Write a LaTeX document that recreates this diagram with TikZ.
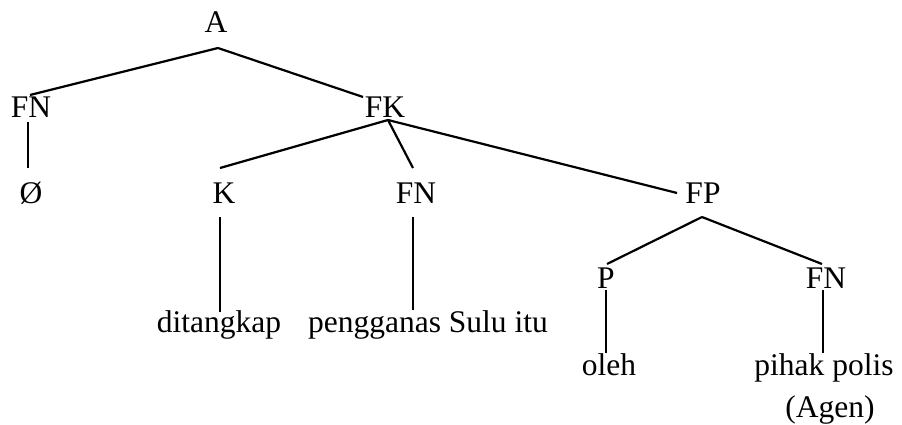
\documentclass[tikz,border=0pt]{standalone}
\usepackage{fontspec}
\setmainfont{Liberation Serif}
\usepackage{tikz}
\usetikzlibrary{positioning}
\tikzset{%
	cat/.style    = {inner sep=0pt, anchor=base, font=\fontsize{31.5}{36}\selectfont}, % category label
	word/.style   = {inner sep=0pt, anchor=base, font=\fontsize{31.5}{36}\selectfont}, % leaf words
	branch/.style = {line width=2.2pt},
}

\begin{document}
\begin{tikzpicture}[x=1pt, y=1pt]
	\useasboundingbox (0,0) rectangle (902,-425);
	% categories
	\node[cat] (A) at (216,-33) {A};
	\node[cat] (fn1) at (31,-118) {FN};
	\node[cat] (fk) at (385,-118) {FK};
	\node[cat] (null) at (31,-203) {Ø};
	\node[cat] (k) at (224,-203) {K};
	\node[cat] (fn2) at (416,-203) {FN};
	\node[cat] (fp) at (703,-203) {FP};
	\node[cat] (p) at (606,-288) {P};
	\node[cat] (fn3) at (826,-288) {FN};
	% words
	\node[word] (ditangkap) at (219,-332) {ditangkap};
	\node[word] (pengganas) at (428,-332) {pengganas Sulu itu};
	\node[word] (oleh) at (609,-375) {oleh};
	\node[word] (pihak) at (824,-375) {pihak polis};
	\node[word] (agen) at (830,-417) {(Agen)};
	% branches
	\draw[branch] ([shift={(2,-15)}]A.base) -- ([shift={(-1,23)}]fn1.base);
	\draw[branch] ([shift={(2,-15)}]A.base) -- ([shift={(-22,21)}]fk.base);
	\draw[branch] ([shift={(-3,-4)}]fn1.base) -- ([shift={(-3,35)}]null.base);
	\draw[branch] ([shift={(3,-2)}]fk.base) -- ([shift={(-4,35)}]k.base);
	\draw[branch] ([shift={(3,-2)}]fk.base) -- ([shift={(-3,35)}]fn2.base);
	\draw[branch] ([shift={(3,-2)}]fk.base) -- ([shift={(-26,10)}]fp.base);
	\draw[branch] ([shift={(-4,-14)}]k.base) -- ([shift={(1,20)}]ditangkap.base);
	\draw[branch] ([shift={(-3,-14)}]fn2.base) -- ([shift={(-15,22)}]pengganas.base);
	\draw[branch] ([shift={(-1,-14)}]fp.base) -- ([shift={(1,24)}]p.base);
	\draw[branch] ([shift={(-1,-14)}]fp.base) -- ([shift={(-4,24)}]fn3.base);
	\draw[branch] ([shift={(0,-2)}]p.base) -- ([shift={(-3,22)}]oleh.base);
	\draw[branch] ([shift={(-3,-2)}]fn3.base) -- ([shift={(-1,22)}]pihak.base);
\end{tikzpicture}
\end{document}
